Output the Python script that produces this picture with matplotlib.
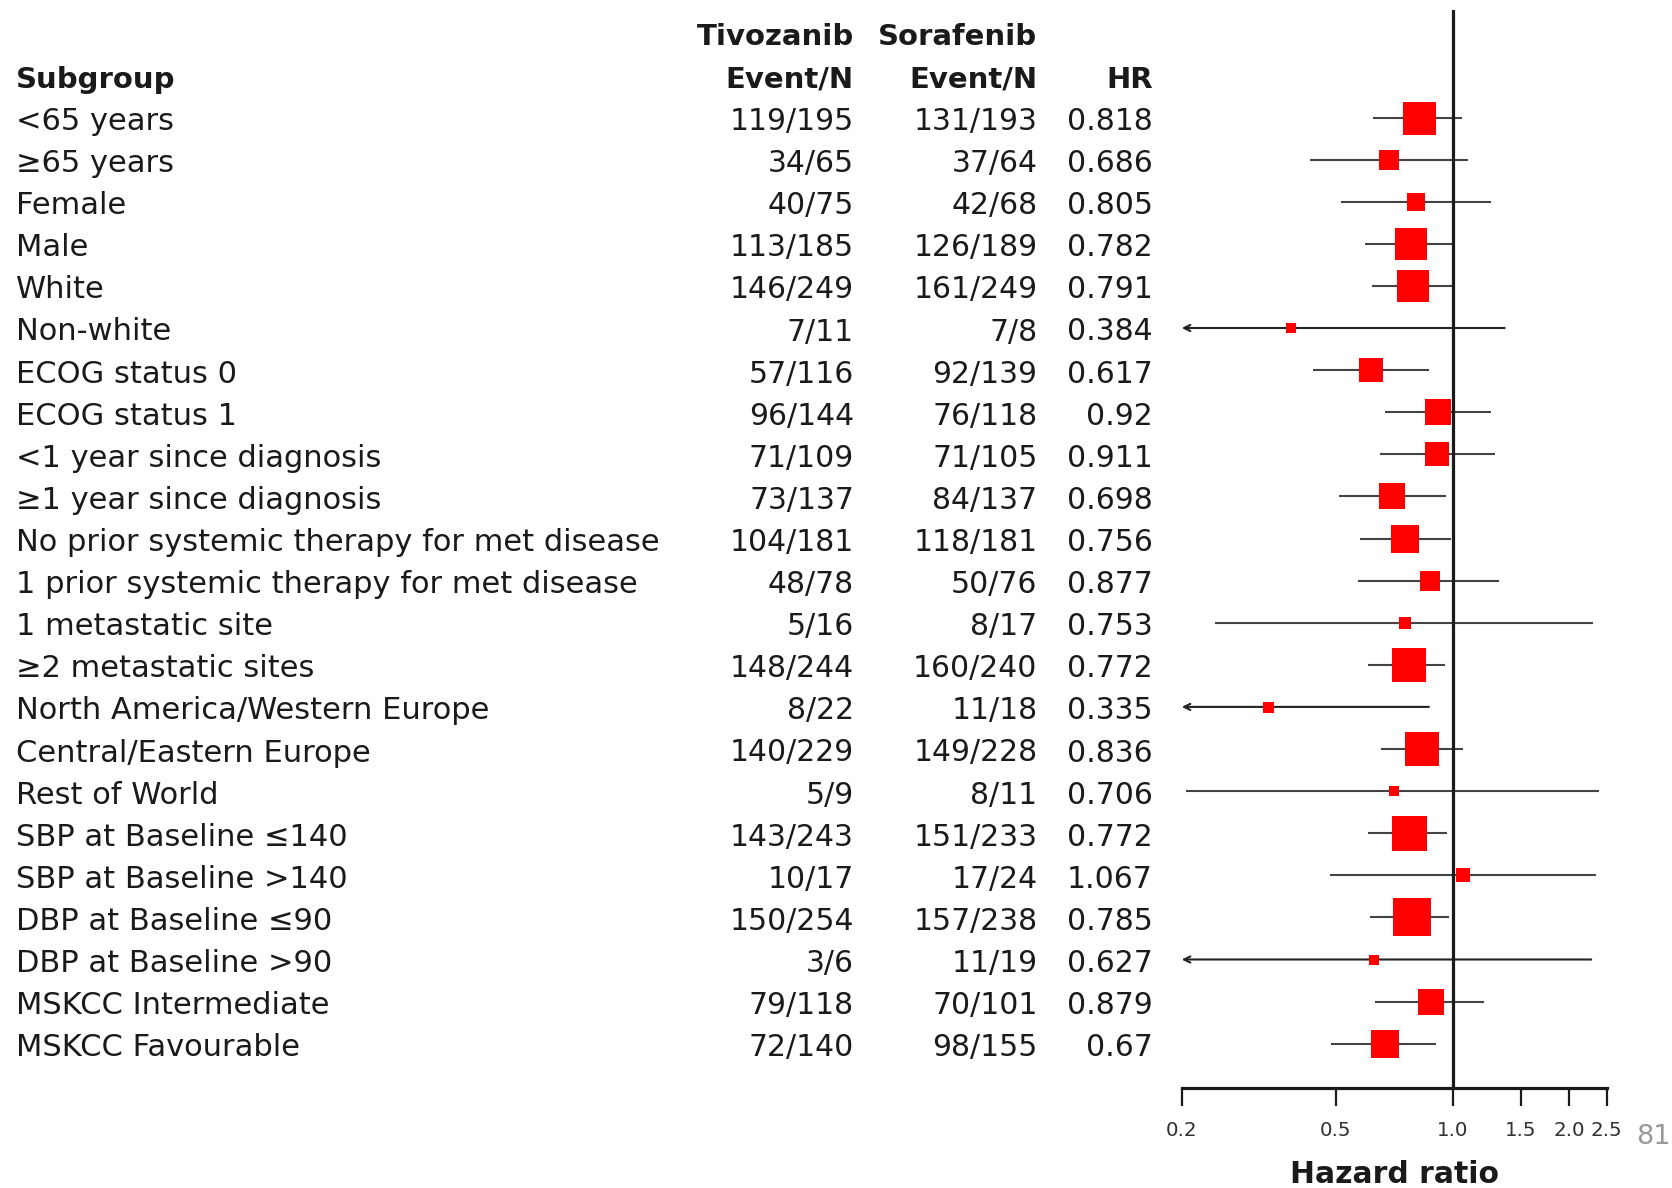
import numpy as np
import matplotlib
matplotlib.use("Agg")
import matplotlib.pyplot as plt
from matplotlib.transforms import blended_transform_factory

plt.rcParams['font.family'] = ['DejaVu Sans']

# ---- data -------------------------------------------------------------
subgroups = [
    "<65 years", "≥65 years", "Female", "Male", "White", "Non-white",
    "ECOG status 0", "ECOG status 1", "<1 year since diagnosis",
    "≥1 year since diagnosis", "No prior systemic therapy for met disease",
    "1 prior systemic therapy for met disease", "1 metastatic site",
    "≥2 metastatic sites", "North America/Western Europe",
    "Central/Eastern Europe", "Rest of World", "SBP at Baseline ≤140",
    "SBP at Baseline >140", "DBP at Baseline ≤90", "DBP at Baseline >90",
    "MSKCC Intermediate", "MSKCC Favourable",
]
tivozanib = ["119/195", "34/65", "40/75", "113/185", "146/249", "7/11",
             "57/116", "96/144", "71/109", "73/137", "104/181", "48/78",
             "5/16", "148/244", "8/22", "140/229", "5/9", "143/243",
             "10/17", "150/254", "3/6", "79/118", "72/140"]
sorafenib = ["131/193", "37/64", "42/68", "126/189", "161/249", "7/8",
             "92/139", "76/118", "71/105", "84/137", "118/181", "50/76",
             "8/17", "160/240", "11/18", "149/228", "8/11", "151/233",
             "17/24", "157/238", "11/19", "70/101", "98/155"]
hr_text = ["0.818", "0.686", "0.805", "0.782", "0.791", "0.384", "0.617",
           "0.92", "0.911", "0.698", "0.756", "0.877", "0.753", "0.772",
           "0.335", "0.836", "0.706", "0.772", "1.067", "0.785", "0.627",
           "0.879", "0.67"]
hr = [float(v) for v in hr_text]
ci_low = [0.624, 0.428, 0.515, 0.594, 0.619, 0.15, 0.437, 0.670, 0.651,
          0.510, 0.576, 0.570, 0.244, 0.604, 0.15, 0.655, 0.205, 0.605,
          0.482, 0.613, 0.15, 0.629, 0.487]
ci_high = [1.061, 1.097, 1.258, 0.995, 0.995, 1.364, 0.869, 1.258, 1.285,
           0.963, 0.99, 1.316, 2.30, 0.957, 0.869, 1.065, 2.39, 0.967,
           2.35, 0.98, 2.28, 1.209, 0.907]
# relative study weight shown as box width (pixels)
weight = [33, 19.3, 17.3, 32.7, 32.7, 10.7, 24.3, 25.3, 23.3, 26.7, 27.3,
          20.7, 12.3, 34.7, 11, 34, 10, 35, 13.3, 38.3, 10.7, 26, 27]
xticks = [0.2, 0.5, 1.0, 1.5, 2.0, 2.5]
xtick_labels = ["0.2", "0.5", "1.0", "1.5", "2.0", "2.5"]

# ---- figure -----------------------------------------------------------
W, H, DPI = 1672, 1188, 100
fig = plt.figure(figsize=(W / DPI, H / DPI), dpi=DPI)

x0, x1 = 1181.7, 1606.7     # pixel span of the log axis (0.2 .. 2.5)
y_axis, y_top = 1088, 10
ax = fig.add_axes([x0 / W, (H - y_axis) / H, (x1 - x0) / W, (y_axis - y_top) / H])
ax.set_xscale('log')
xmin, xmax = xticks[0], xticks[-1]
ax.set_xlim(xmin, xmax)
row0, step = 117.5, 42.1
ax.set_ylim((y_axis - row0) / step, (y_top - row0) / step)

n = len(subgroups)
rows = np.arange(n)

ci_color = '#444444'
for i in rows:
    lo, hi = ci_low[i], ci_high[i]
    if lo < xmin:
        ax.annotate('', xy=(xmin, i), xytext=(hi, i),
                    arrowprops=dict(arrowstyle='->,head_length=0.45,head_width=0.22',
                                    color='#222222', lw=1.5, shrinkA=0, shrinkB=0),
                    annotation_clip=False)
    else:
        ax.plot([lo, hi], [i, i], color=ci_color, lw=1.5, solid_capstyle='butt', zorder=2)
    ax.plot(hr[i], i, marker='s', ms=weight[i] * 72 / DPI, color='#ff0000',
            mec='#ff0000', mew=0, ls='none', zorder=4)

ax.axvline(1.0, color='#1a1a1a', lw=2.3, zorder=3)

for s in ['top', 'right', 'left']:
    ax.spines[s].set_visible(False)
ax.spines['bottom'].set_linewidth(2.3)
ax.spines['bottom'].set_color('#1a1a1a')
ax.spines['bottom'].set_bounds(xmin, xmax)
ax.set_yticks([])
ax.set_xticks(xticks)
ax.set_xticklabels(xtick_labels)
ax.xaxis.set_minor_locator(matplotlib.ticker.NullLocator())
ax.tick_params(axis='x', length=13, width=1.6, color='#1a1a1a',
               labelsize=14.3, labelcolor='#333333', pad=11)
ax.set_xlabel('Hazard ratio', fontsize=21.5, fontweight='bold', color='#1a1a1a',
              labelpad=14)

# ---- table text -------------------------------------------------------
tr = blended_transform_factory(fig.transFigure, ax.transData)
base_off = 12.5 / step
fs = 21.5
tc = '#1a1a1a'
col_sub, col_tiv, col_sor, col_hr = 16 / W, 854 / W, 1037.5 / W, 1152.7 / W

for i in rows:
    y = i + base_off
    ax.text(col_sub, y, subgroups[i], transform=tr, ha='left', va='baseline',
            fontsize=fs + 0.5, color=tc)
    ax.text(col_tiv, y, tivozanib[i], transform=tr, ha='right', va='baseline',
            fontsize=fs, color=tc)
    ax.text(col_sor, y, sorafenib[i], transform=tr, ha='right', va='baseline',
            fontsize=fs, color=tc)
    ax.text(col_hr, y, hr_text[i], transform=tr, ha='right', va='baseline',
            fontsize=fs, color=tc)

y_hdr2 = (87.5 - row0) / step
y_hdr1 = (45 - row0) / step
hdr = dict(transform=tr, va='baseline', fontsize=fs - 0.5, fontweight='bold', color=tc)
ax.text(col_sub, y_hdr2, 'Subgroup', ha='left', **hdr)
ax.text(col_tiv, y_hdr1, 'Tivozanib', ha='right', **hdr)
ax.text(col_sor, y_hdr1, 'Sorafenib', ha='right', **hdr)
ax.text(col_tiv, y_hdr2, 'Event/N', ha='right', **hdr)
ax.text(col_sor, y_hdr2, 'Event/N', ha='right', **hdr)
ax.text(col_hr, y_hdr2, 'HR', ha='right', **hdr)

# page number
fig.text(1636 / W, 1 - 1137 / H, '81', ha='left', va='center', fontsize=19.5,
         color='#999999')

fig.savefig('out.png', dpi=DPI)
